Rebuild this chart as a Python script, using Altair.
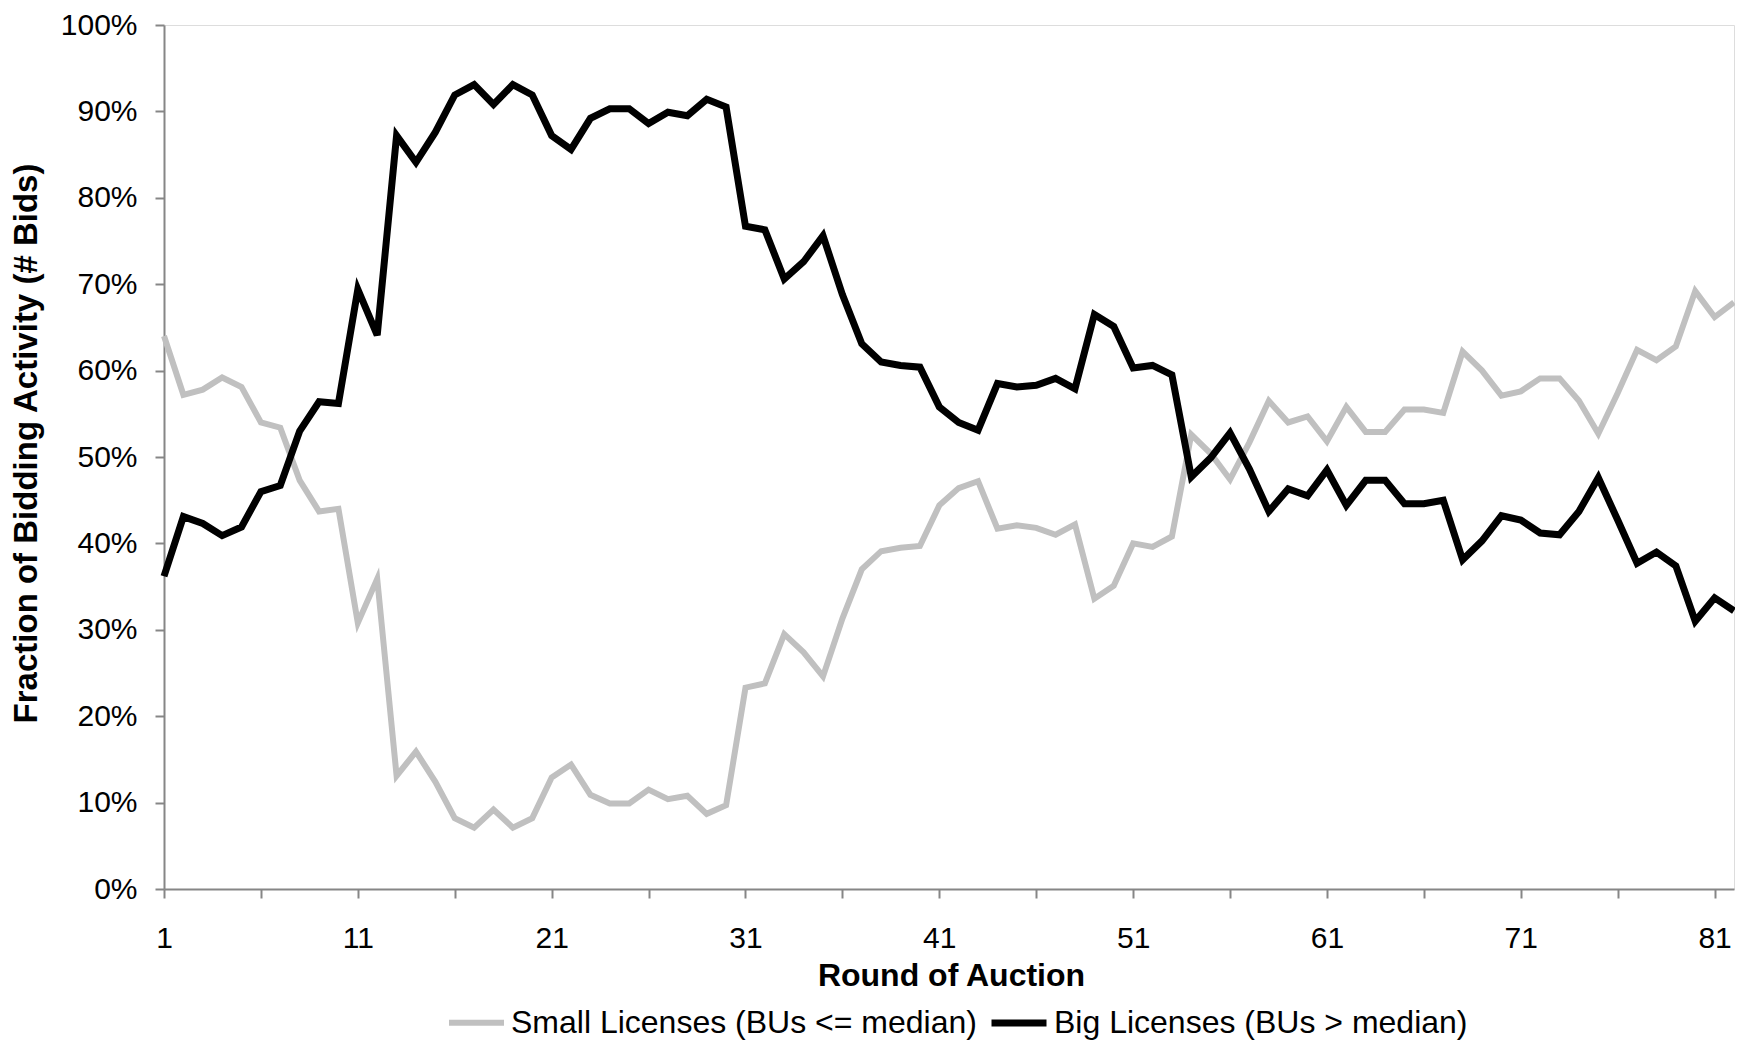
import altair as alt
import pandas as pd

rounds = list(range(1, 83))

big = [36.2, 43.1, 42.3, 40.9, 41.9, 46.0, 46.7, 53.0, 56.4, 56.2,
       69.4, 64.1, 87.2, 84.1, 87.6, 91.9, 93.1, 90.8, 93.1, 91.9,
       87.2, 85.6, 89.2, 90.3, 90.3, 88.6, 89.9, 89.5, 91.4, 90.5,
       76.7, 76.3, 70.6, 72.6, 75.6, 68.8, 63.1, 61.0, 60.6, 60.4,
       55.8, 54.0, 53.1, 58.5, 58.1, 58.3, 59.1, 57.9, 66.5, 65.1,
       60.3, 60.6, 59.5, 47.7, 49.9, 52.8, 48.6, 43.7, 46.3, 45.5,
       48.5, 44.4, 47.3, 47.3, 44.6, 44.6, 45.0, 38.1, 40.3, 43.2,
       42.7, 41.2, 41.0, 43.7, 47.6, 42.7, 37.7, 39.0, 37.4, 31.0,
       33.7, 32.2]

small = [64.0, 57.2, 57.8, 59.2, 58.1, 54.0, 53.4, 47.3, 43.7, 44.0,
         30.8, 35.9, 13.1, 15.9, 12.4, 8.2, 7.1, 9.2, 7.1, 8.2,
         12.9, 14.4, 10.9, 9.9, 9.9, 11.5, 10.4, 10.8, 8.7, 9.7,
         23.3, 23.8, 29.5, 27.4, 24.6, 31.3, 37.0, 39.1, 39.5, 39.7,
         44.4, 46.4, 47.2, 41.7, 42.1, 41.8, 41.0, 42.2, 33.6, 35.1,
         40.0, 39.6, 40.8, 52.6, 50.4, 47.4, 51.7, 56.5, 54.0, 54.7,
         51.8, 55.8, 52.9, 52.9, 55.5, 55.5, 55.1, 62.2, 60.0, 57.1,
         57.6, 59.1, 59.1, 56.5, 52.7, 57.4, 62.4, 61.2, 62.8, 69.2,
         66.2, 67.9]

series_names = ["Small Licenses (BUs <= median)", "Big Licenses (BUs > median)"]
series_colors = ["#c0c0c0", "#000000"]
series_widths = [6.0, 7.0]

x_ticks = list(range(1, 82, 5))
y_ticks = list(range(0, 101, 10))

rows = []
for r, v in zip(rounds, small):
    rows.append({"round": r, "value": v, "series": series_names[0], "order": 0})
for r, v in zip(rounds, big):
    rows.append({"round": r, "value": v, "series": series_names[1], "order": 1})
df = pd.DataFrame(rows)

FONT = "Liberation Sans"
AXIS_GRAY = "#868686"

chart = alt.Chart(df).mark_line(strokeCap="butt").encode(
    x=alt.X(
        "round:Q",
        scale=alt.Scale(domain=[1, 82], nice=False, zero=False),
        axis=alt.Axis(
            values=x_ticks,
            labelExpr="(datum.value - 1) % 10 == 0 ? datum.value : ''",
            title="Round of Auction",
            titleFont=FONT, titleFontSize=32, titleFontWeight="bold", titleColor="black",
            titleBaseline="alphabetic", titleY=96, titleX=787,
            labelFont=FONT, labelFontSize=30, labelColor="black",
            labelPadding=25, tickSize=9, tickColor=AXIS_GRAY, tickWidth=2,
            domainColor=AXIS_GRAY, domainWidth=2, grid=False,
            labelFlush=False, labelOverlap=False,
        ),
    ),
    y=alt.Y(
        "value:Q",
        scale=alt.Scale(domain=[0, 100], nice=False),
        axis=alt.Axis(
            values=y_ticks,
            labelExpr="datum.value + '%'",
            title="Fraction of Bidding Activity (# Bids)",
            titleFont=FONT, titleFontSize=33, titleFontWeight="bold", titleColor="black",
            titleAngle=270, titleAlign="center", titleBaseline="alphabetic",
            titleX=-128, titleY=418,
            labelFont=FONT, labelFontSize=30, labelColor="black",
            labelPadding=18, tickSize=9, tickColor=AXIS_GRAY, tickWidth=2,
            domainColor=AXIS_GRAY, domainWidth=2, grid=False,
            labelFlush=False, labelOverlap=False,
        ),
    ),
    color=alt.Color(
        "series:N",
        scale=alt.Scale(domain=series_names, range=series_colors),
        legend=alt.Legend(
            title=None, orient="none", direction="horizontal",
            legendX=282, legendY=967,
            symbolType="stroke", symbolSize=3025, symbolStrokeWidth=7.5,
            labelFont=FONT, labelFontSize=32, labelColor="black",
            labelLimit=1000, labelOffset=4, columnPadding=0, padding=0,
        ),
    ),
    strokeWidth=alt.StrokeWidth(
        "series:N",
        scale=alt.Scale(domain=series_names, range=series_widths),
        legend=None,
    ),
    order=alt.Order("order:Q"),
).properties(
    width=1570,
    height=864,
    autosize=alt.AutoSizeParams(type="none"),
    padding={"left": 156, "top": 17, "right": 1, "bottom": 152},
).configure_view(stroke=None).configure(background="white")

chart.save("out.html", embed_options={"renderer": "svg", "actions": False})
